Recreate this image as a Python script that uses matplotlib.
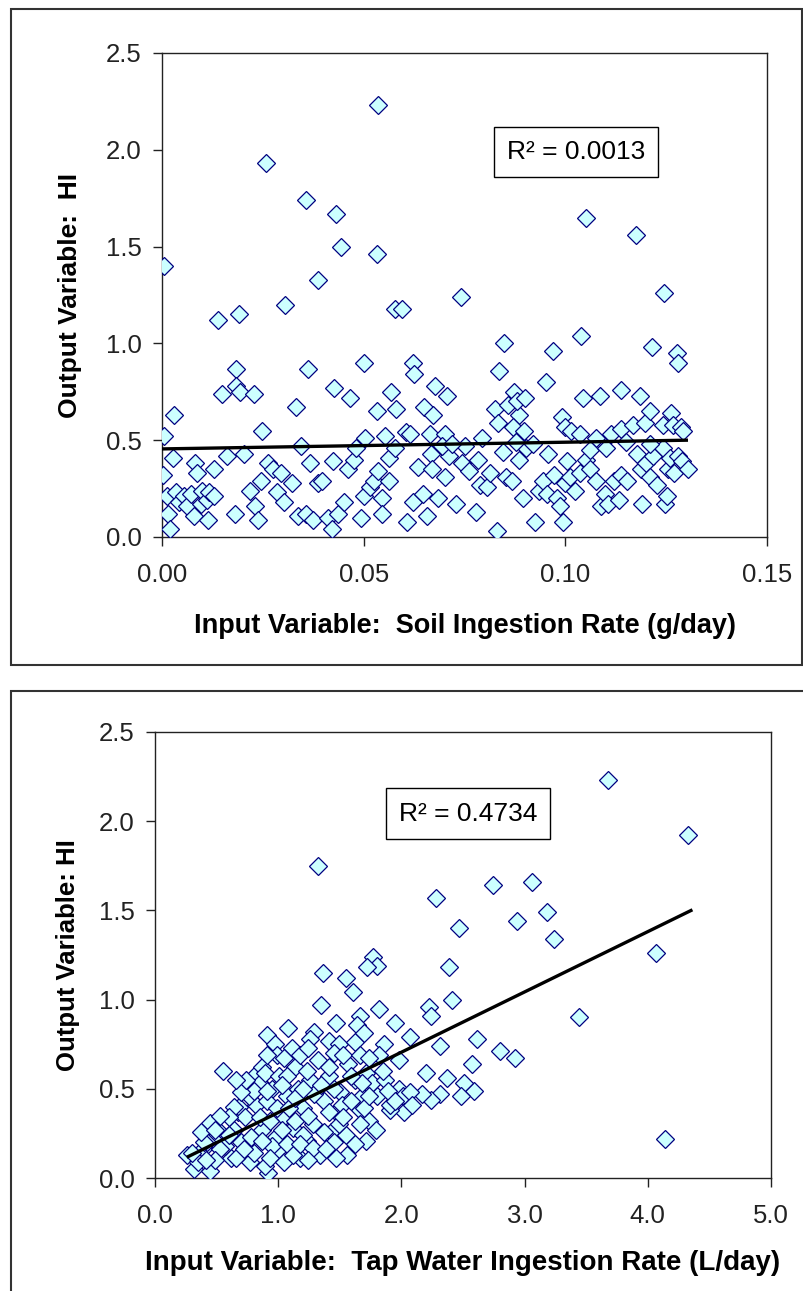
import numpy as np
import matplotlib
matplotlib.use("Agg")
import matplotlib.pyplot as plt
from matplotlib.patches import Rectangle
from matplotlib.ticker import FormatStrFormatter

plt.rcParams["font.family"] = ["Liberation Sans", "DejaVu Sans"]

# ---- panel 1: soil ingestion rate vs HI ----
soil_x = [
    0.0536, 0.0258, 0.0356, 0.0432, 0.0443, 0.0532, 0.0005, 0.0388, 0.0306, 0.0578,
    0.0594, 0.0741, 0.0138, 0.0192, 0.1050, 0.1175, 0.1244, 0.1040, 0.0847, 0.0970,
    0.1216, 0.1277, 0.1280, 0.0500, 0.0622, 0.0184, 0.0361, 0.0836, 0.0626, 0.0951,
    0.0148, 0.0184, 0.0194, 0.0229, 0.0427, 0.0465, 0.0568, 0.0677, 0.0707, 0.1045,
    0.1087, 0.1139, 0.1185, 0.0029, 0.0332, 0.0532, 0.0580, 0.0649, 0.0672, 0.0826,
    0.0873, 0.0858, 0.0886, 0.0833, 0.0870, 0.0897, 0.0880, 0.0900, 0.0005, 0.0248,
    0.0504, 0.0554, 0.0605, 0.0616, 0.0664, 0.0702, 0.0992, 0.0999, 0.1014, 0.1037,
    0.1075, 0.1114, 0.1139, 0.1167, 0.1197, 0.1210, 0.1261, 0.1242, 0.1267, 0.1286,
    0.1292, 0.0028, 0.0003, 0.0013, 0.0015, 0.0020, 0.0034, 0.0041, 0.0054, 0.0063,
    0.0073, 0.0079, 0.0096, 0.0083, 0.0087, 0.0098, 0.0111, 0.0115, 0.0117, 0.0130,
    0.0128, 0.0162, 0.0180, 0.0204, 0.0217, 0.0230, 0.0239, 0.0245, 0.0264, 0.0275,
    0.0284, 0.0296, 0.0303, 0.0322, 0.0345, 0.0337, 0.0358, 0.0366, 0.0375, 0.0386,
    0.0396, 0.0411, 0.0421, 0.0424, 0.0437, 0.0450, 0.0462, 0.0475, 0.0481, 0.0494,
    0.0500, 0.0516, 0.0526, 0.0536, 0.0545, 0.0545, 0.0564, 0.0564, 0.0577, 0.0607,
    0.0622, 0.0635, 0.0648, 0.0658, 0.0666, 0.0670, 0.0685, 0.0702, 0.0711, 0.0728,
    0.0743, 0.0762, 0.0779, 0.0784, 0.0788, 0.0805, 0.0813, 0.0830, 0.0845, 0.0852,
    0.0868, 0.0884, 0.0894, 0.0903, 0.0925, 0.0935, 0.0945, 0.0954, 0.0958, 0.0971,
    0.0980, 0.0986, 0.0994, 0.0999, 0.1005, 0.1011, 0.1024, 0.1037, 0.1050, 0.1060,
    0.1062, 0.1075, 0.1088, 0.1098, 0.1107, 0.1120, 0.1133, 0.1139, 0.1154, 0.1177,
    0.1188, 0.1190, 0.1200, 0.1209, 0.1218, 0.1228, 0.1241, 0.1248, 0.1251, 0.1254,
    0.1260, 0.1269, 0.1280, 0.1290, 0.1303, 0.0695, 0.0750, 0.0718, 0.0793, 0.0877,
    0.0920, 0.1100, 0.1150, 0.1210,
]
soil_hi = [
    2.23, 1.93, 1.74, 1.67, 1.50, 1.46, 1.40, 1.33, 1.20, 1.18,
    1.18, 1.24, 1.12, 1.15, 1.65, 1.56, 1.26, 1.04, 1.00, 0.96,
    0.98, 0.95, 0.90, 0.90, 0.90, 0.87, 0.87, 0.86, 0.84, 0.80,
    0.74, 0.78, 0.75, 0.74, 0.77, 0.72, 0.75, 0.78, 0.73, 0.72,
    0.73, 0.76, 0.73, 0.63, 0.67, 0.65, 0.66, 0.67, 0.63, 0.66,
    0.75, 0.68, 0.63, 0.59, 0.57, 0.55, 0.70, 0.72, 0.52, 0.55,
    0.51, 0.52, 0.54, 0.53, 0.53, 0.53, 0.62, 0.57, 0.55, 0.53,
    0.51, 0.53, 0.56, 0.58, 0.59, 0.65, 0.64, 0.58, 0.58, 0.57,
    0.55, 0.41, 0.32, 0.21, 0.12, 0.04, 0.23, 0.18, 0.21, 0.16,
    0.22, 0.11, 0.17, 0.38, 0.33, 0.24, 0.19, 0.09, 0.23, 0.35,
    0.21, 0.42, 0.12, 0.43, 0.24, 0.16, 0.09, 0.29, 0.38, 0.35,
    0.23, 0.33, 0.18, 0.28, 0.47, 0.11, 0.12, 0.38, 0.09, 0.28,
    0.29, 0.10, 0.04, 0.39, 0.12, 0.18, 0.35, 0.40, 0.46, 0.10,
    0.21, 0.26, 0.29, 0.34, 0.20, 0.12, 0.29, 0.41, 0.46, 0.08,
    0.18, 0.36, 0.22, 0.11, 0.43, 0.35, 0.20, 0.31, 0.42, 0.17,
    0.38, 0.34, 0.13, 0.40, 0.27, 0.26, 0.33, 0.03, 0.44, 0.31,
    0.29, 0.40, 0.20, 0.46, 0.08, 0.24, 0.29, 0.22, 0.43, 0.32,
    0.20, 0.16, 0.08, 0.28, 0.39, 0.31, 0.24, 0.33, 0.40, 0.45,
    0.35, 0.29, 0.16, 0.22, 0.17, 0.29, 0.19, 0.32, 0.29, 0.43,
    0.35, 0.17, 0.38, 0.31, 0.42, 0.27, 0.46, 0.17, 0.21, 0.35,
    0.41, 0.33, 0.42, 0.39, 0.35, 0.47, 0.47, 0.48, 0.51, 0.49,
    0.48, 0.46, 0.49, 0.48,
]
soil_fit = (0.346, 0.455)   # slope, intercept of trend line
soil_fit_range = (0.0, 0.13)
soil_r2 = "R² = 0.0013"

# ---- panel 2: tap water ingestion rate vs HI ----
water_x = [
    3.68, 4.33, 1.32, 2.74, 3.06, 2.28, 3.18, 2.94, 2.47, 3.24,
    4.07, 3.44, 4.14, 1.77, 1.80, 1.72, 1.36, 1.55, 1.61, 2.39,
    2.41, 1.35, 1.82, 2.22, 2.24, 1.66, 1.64, 1.47, 1.95, 1.08,
    1.29, 0.91, 0.97, 1.11, 1.26, 1.41, 1.49, 1.62, 1.86, 2.07,
    2.31, 2.61, 2.80, 2.92, 2.57, 0.55, 1.98, 1.82, 2.20, 2.37,
    2.59, 2.51, 2.48, 2.31, 2.24, 2.17, 1.98, 2.01, 2.02, 1.91,
    1.80, 1.74, 1.79, 1.71, 1.56, 1.34, 1.18, 0.99, 0.92, 0.26,
    0.32, 0.45, 0.39, 0.45, 0.53, 0.62, 0.67, 0.70, 0.77, 0.80,
    0.85, 0.87, 0.89, 0.82, 0.87, 0.89, 0.95, 0.98, 1.01, 1.05,
    1.07, 1.12, 1.14, 1.16, 1.20, 1.23, 1.26, 1.28, 1.32, 1.37,
    1.41, 1.43, 1.47, 1.50, 1.52, 1.55, 1.57, 1.62, 1.66, 1.68,
    1.71, 1.76, 1.87, 1.91, 0.47, 0.57, 0.64, 0.68, 0.73, 0.78,
    0.80, 0.85, 0.91, 0.93, 0.95, 0.99, 1.03, 1.07, 1.09, 1.14,
    1.20, 1.24, 1.29, 1.37, 1.41, 1.45, 1.49, 1.53, 1.59, 1.66,
    1.70, 0.53, 0.60, 0.42, 0.49, 0.66, 0.72, 0.76, 0.80, 0.70,
    0.64, 0.60, 0.53, 0.35, 0.41, 0.30, 0.40, 0.37, 0.49, 0.87,
    0.93, 1.05, 1.12, 1.18, 1.28, 1.24, 1.39, 1.47, 1.62, 1.68,
    1.74, 1.85, 1.89, 1.95, 2.07, 2.09, 0.99, 1.05, 1.18, 1.24,
    1.45, 1.53, 1.41, 1.23, 1.07, 0.91, 0.74, 0.66, 0.91, 1.03,
    1.14, 1.20, 1.35, 1.45, 1.59, 1.66, 1.74, 1.70,
]
water_hi = [
    2.23, 1.92, 1.75, 1.64, 1.66, 1.57, 1.49, 1.44, 1.40, 1.34,
    1.26, 0.90, 0.22, 1.24, 1.19, 1.18, 1.15, 1.12, 1.04, 1.18,
    1.00, 0.97, 0.95, 0.96, 0.91, 0.91, 0.86, 0.87, 0.87, 0.84,
    0.82, 0.80, 0.75, 0.73, 0.78, 0.77, 0.75, 0.76, 0.75, 0.79,
    0.74, 0.78, 0.71, 0.67, 0.64, 0.60, 0.66, 0.69, 0.59, 0.56,
    0.49, 0.53, 0.46, 0.47, 0.44, 0.47, 0.50, 0.46, 0.37, 0.38,
    0.46, 0.32, 0.27, 0.21, 0.13, 0.13, 0.11, 0.15, 0.03, 0.13,
    0.05, 0.04, 0.16, 0.31, 0.26, 0.11, 0.37, 0.20, 0.09, 0.57,
    0.53, 0.62, 0.59, 0.41, 0.27, 0.07, 0.50, 0.23, 0.57, 0.34,
    0.46, 0.28, 0.62, 0.50, 0.39, 0.21, 0.55, 0.30, 0.66, 0.43,
    0.57, 0.26, 0.37, 0.48, 0.41, 0.24, 0.64, 0.55, 0.38, 0.46,
    0.59, 0.53, 0.55, 0.41, 0.22, 0.18, 0.27, 0.40, 0.34, 0.23,
    0.14, 0.34, 0.43, 0.32, 0.18, 0.39, 0.27, 0.19, 0.39, 0.32,
    0.24, 0.35, 0.47, 0.26, 0.37, 0.20, 0.30, 0.34, 0.43, 0.30,
    0.39, 0.16, 0.24, 0.20, 0.10, 0.11, 0.16, 0.46, 0.49, 0.48,
    0.40, 0.34, 0.35, 0.09, 0.10, 0.14, 0.20, 0.26, 0.27, 0.21,
    0.11, 0.09, 0.13, 0.19, 0.17, 0.10, 0.16, 0.11, 0.19, 0.53,
    0.46, 0.60, 0.49, 0.43, 0.48, 0.41, 0.69, 0.67, 0.69, 0.73,
    0.70, 0.69, 0.62, 0.60, 0.57, 0.49, 0.55, 0.55, 0.69, 0.52,
    0.45, 0.50, 0.52, 0.50, 0.57, 0.69, 0.67, 0.81,
]
water_fit = (0.338, 0.029)
water_fit_range = (0.27, 4.35)
water_r2 = "R² = 0.4734"

FACE = "#CCFFFF"
EDGE = "#000080"

fig = plt.figure(figsize=(8.04, 12.91), dpi=100)
W, H = 804.0, 1291.0

# outer chart frames
fig.patches.append(Rectangle((11 / W, 1 - 665 / H), 791 / W, 656 / H,
                             transform=fig.transFigure, fill=False,
                             edgecolor="#333333", linewidth=1.5))
fig.patches.append(Rectangle((11 / W, 1 - 1300 / H), 800 / W, 609 / H,
                             transform=fig.transFigure, fill=False,
                             edgecolor="#333333", linewidth=1.5))


def panel(rect, xs, ys, fit, fit_range, r2, r2_pos, xlim, xticks, xfmt,
          xlabel, ylabel, xlsize, ylsize, xlabelpad, ylabelpad, xtickpad):
    ax = fig.add_axes(rect)
    ax.plot(xs, ys, linestyle="none", marker="D", markersize=8.8,
            markerfacecolor=FACE, markeredgecolor=EDGE, markeredgewidth=0.9,
            zorder=3)
    fx = np.array(fit_range)
    ax.plot(fx, fit[0] * fx + fit[1], color="black", linewidth=2.4, zorder=4)
    ax.set_xlim(xlim)
    ax.set_ylim(0, 2.5)
    ax.set_xticks(xticks)
    ax.set_yticks(np.arange(0, 2.51, 0.5))
    ax.xaxis.set_major_formatter(FormatStrFormatter(xfmt))
    ax.yaxis.set_major_formatter(FormatStrFormatter("%.1f"))
    ax.tick_params(axis="x", direction="out", length=6.5, width=1,
                   labelsize=18.5, pad=xtickpad, colors="#222222")
    ax.tick_params(axis="y", direction="out", length=6.5, width=1,
                   labelsize=18.5, pad=8, colors="#222222")
    for s in ax.spines.values():
        s.set_linewidth(1)
        s.set_color("#222222")
    ax.set_xlabel(xlabel, fontsize=xlsize, fontweight="bold", labelpad=xlabelpad)
    ax.set_ylabel(ylabel, fontsize=ylsize, fontweight="bold", labelpad=ylabelpad)
    ax.text(r2_pos[0], r2_pos[1], r2, transform=ax.transAxes, fontsize=19,
            ha="center", va="center",
            bbox=dict(boxstyle="square,pad=0.5", facecolor="white",
                      edgecolor="black", linewidth=1))
    return ax


panel([162 / W, 1 - 537 / H, 605 / W, 484 / H], soil_x, soil_hi, soil_fit,
      soil_fit_range, soil_r2, (0.684, 0.795), (0, 0.15),
      [0, 0.05, 0.10, 0.15], "%.2f",
      "Input Variable:  Soil Ingestion Rate (g/day)", "Output Variable:  HI",
      19.5, 19, 19, 17, 12)

panel([155 / W, 1 - 1178 / H, 616 / W, 446 / H], water_x, water_hi, water_fit,
      water_fit_range, water_r2, (0.508, 0.817), (0, 5),
      [0, 1, 2, 3, 4, 5], "%.1f",
      "Input Variable:  Tap Water Ingestion Rate (L/day)", "Output Variable: HI",
      20, 18.5, 16, 14, 12)

fig.savefig("out.png", dpi=100, facecolor="white")
